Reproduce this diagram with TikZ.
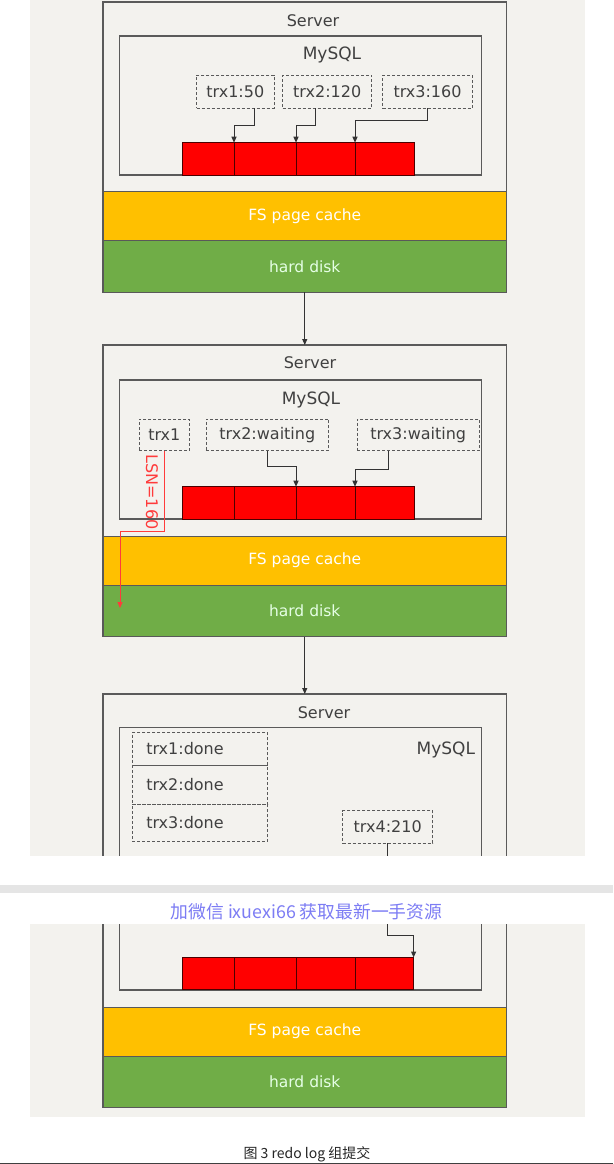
\documentclass[tikz,border=0pt]{standalone}
\usepackage{fontspec}
\setmainfont{DejaVu Sans}
\newfontfamily\cjk{Noto Sans CJK SC}
\usetikzlibrary{arrows.meta}
\definecolor{bggray}{HTML}{F3F2EE}
\definecolor{lineg}{HTML}{5A5A5A}
\definecolor{fsyellow}{HTML}{FFC000}
\definecolor{hdgreen}{HTML}{70AD47}
\definecolor{cellred}{HTML}{FF0000}
\definecolor{lsnred}{HTML}{FF3B3B}
\definecolor{wmblue}{HTML}{7C7CF4}
\definecolor{sepgray}{HTML}{E5E5E5}
\definecolor{txtg}{HTML}{404040}
\tikzset{
  every node/.style={inner sep=0pt, outer sep=0pt},
  serverbox/.style={draw=lineg, line width=1.1pt, fill=bggray, anchor=north west},
  mysqlbox/.style={draw=lineg, line width=1.1pt, anchor=north west},
  dbox/.style={draw=lineg, line width=0.9pt, dash pattern=on 3pt off 2pt, font=\fontsize{16}{18}\selectfont, text=txtg},
  cell/.style={draw=black!70!red, line width=0.8pt, fill=cellred, minimum height=32.3pt},
  fsbox/.style={draw=black!65, line width=1pt, fill=fsyellow, minimum width=403.5pt, minimum height=49pt, text=white, font=\fontsize{15.5}{17}\selectfont},
  hdbox/.style={draw=black!65, line width=1pt, fill=hdgreen, minimum width=403.5pt, minimum height=51.3pt, text=white!90!green, font=\fontsize{15.5}{17}\selectfont},
  lbl/.style={font=\fontsize{16}{18}\selectfont, text=txtg},
  mlbl/.style={font=\fontsize{17}{19}\selectfont, text=txtg},
  arr/.style={draw=black!80, line width=1pt, -{Triangle[length=6pt,width=5pt]}},
  lsn/.style={draw=lsnred, line width=1pt, -{Triangle[length=6pt,width=5pt]}},
}
\begin{document}
\begin{tikzpicture}[x=1pt,y=-1pt]
\useasboundingbox (0,0) rectangle (613,1164);
\fill[white] (0,0) rectangle (613,1164);
% background panels
\fill[bggray] (30,0) rectangle (584.5,855.5);
\fill[bggray] (30,924) rectangle (584.5,1116.7);

% ================= Panel 1 =================
\node[serverbox, minimum width=403.5pt, minimum height=290pt] (S1) at (103,2) {};
\node[lbl] (S1l) at (313,21) {Server};
\node[mysqlbox, minimum width=362pt, minimum height=139pt] (M1) at (119.5,36) {};
\node[mlbl] (M1l) at (332,55) {MySQL};
\node[dbox, minimum width=77.3pt, minimum height=33pt] (T11) at (235.3,91.5) {trx1:50};
\node[dbox, minimum width=89pt, minimum height=33pt] (T12) at (327.2,91.5) {trx2:120};
\node[dbox, minimum width=89.6pt, minimum height=33pt] (T13) at (427.5,91.5) {trx3:160};
\node[cell, minimum width=51.7pt] (C11) at (208.15,158.85) {};
\node[cell, minimum width=62pt] (C12) at (265,158.85) {};
\node[cell, minimum width=59pt] (C13) at (325.5,158.85) {};
\node[cell, minimum width=59pt] (C14) at (384.5,158.85) {};
\draw[arr] ([xshift=18.7pt]T11.south) -- ++(0,17.3) -| (C11.north east);
\draw[arr] ([xshift=-11.5pt]T12.south) -- ++(0,17.3) -| (C12.north east);
\draw[arr] (T13.south) -- ++(0,12.7) -| (C13.north east);
\node[fsbox] (FS1) at (304.75,216.2) {FS page cache};
\node[hdbox] (HD1) at (304.75,266.35) {hard disk};

% ================= Panel 2 =================
\node[serverbox, minimum width=403.5pt, minimum height=291pt] (S2) at (103,345) {};
\node[lbl] (S2l) at (310,363) {Server};
\node[mysqlbox, minimum width=362pt, minimum height=139pt] (M2) at (119.5,380) {};
\node[mlbl] (M2l) at (311,400) {MySQL};
\node[dbox, minimum width=50pt, minimum height=31.7pt] (T21) at (164.3,434.9) {trx1};
\node[dbox, minimum width=122.7pt, minimum height=31.7pt] (T22) at (267.3,434.9) {trx2:waiting};
\node[dbox, minimum width=122.3pt, minimum height=31.7pt] (T23) at (418.2,434.9) {trx3:waiting};
\node[cell, minimum width=51.7pt] (C21) at (208.15,502.85) {};
\node[cell, minimum width=62pt] (C22) at (265,502.85) {};
\node[cell, minimum width=59pt] (C23) at (325.5,502.85) {};
\node[cell, minimum width=59pt] (C24) at (384.5,502.85) {};
\draw[arr] (T22.south) -- ++(0,15.3) -| (C22.north east);
\draw[arr] ([xshift=-29.9pt]T23.south) -- ++(0,18.3) -| (C23.north east);
\node[fsbox] (FS2) at (304.75,560.7) {FS page cache};
\node[hdbox] (HD2) at (304.75,610.85) {hard disk};
\coordinate (LSNend) at (120,608);
\draw[lsn] (T21.south) -- ++(0,80.3) -| (LSNend);
\node[rotate=-90, text=lsnred, font=\fontsize{16}{18}\selectfont] (LSN) at (152,492) {LSN=160};

% ================= Panel 3 =================
\node[serverbox, minimum width=403.5pt, minimum height=413.7pt] (S3) at (103,694) {};
\node[lbl] (S3l) at (324,712.7) {Server};
\node[mysqlbox, minimum width=362pt, minimum height=262.3pt] (M3) at (119.5,727.7) {};
\node[mlbl, anchor=east] (M3l) at (475,750) {MySQL};
\node[dbox, anchor=north west, minimum width=135.4pt, minimum height=32.3pt, text width=107.4pt, inner xsep=14pt, align=left] (D1) at (132.3,732.7) {trx1:done};
\node[dbox, anchor=north west, minimum width=135.4pt, minimum height=39.3pt, text width=107.4pt, inner xsep=14pt, align=left] (D2) at (132.3,765) {trx2:done};
\node[dbox, anchor=north west, minimum width=135.4pt, minimum height=37.4pt, text width=107.4pt, inner xsep=14pt, align=left] (D3) at (132.3,804.3) {trx3:done};
\node[dbox, minimum width=90pt, minimum height=32.6pt] (T4) at (387.7,827) {trx4:210};
\node[cell, minimum width=51.7pt] (C31) at (208.15,973.65) {};
\node[cell, minimum width=62pt] (C32) at (265,973.65) {};
\node[cell, minimum width=59pt] (C33) at (325.5,973.65) {};
\node[cell, minimum width=58.6pt] (C34) at (384.3,973.65) {};
\draw[arr] (T4.south) -- ++(0,91.7) -| (C34.north east);
\node[fsbox] (FS3) at (304.75,1031.7) {FS page cache};
\node[hdbox] (HD3) at (304.75,1082.2) {hard disk};

% connectors between panels
\draw[arr] (HD1.south) -- (S2.north);
\draw[arr] (HD2.south) -- (S3.north);

% page break band
\fill[white] (0,855.5) rectangle (613,924);
\fill[sepgray] (0,885) rectangle (613,892.5);
\node[text=wmblue, font=\cjk\fontsize{17.8}{19}\selectfont] (WM) at (306.5,912) {加微信 ixuexi66 获取最新一手资源};
\node[text=black!85, font=\cjk\fontsize{14}{16}\selectfont] (CAP) at (307,1154) {图 3 redo log 组提交};
\fill[black!75] (0,1162.5) rectangle (613,1164);
\end{tikzpicture}
\end{document}
